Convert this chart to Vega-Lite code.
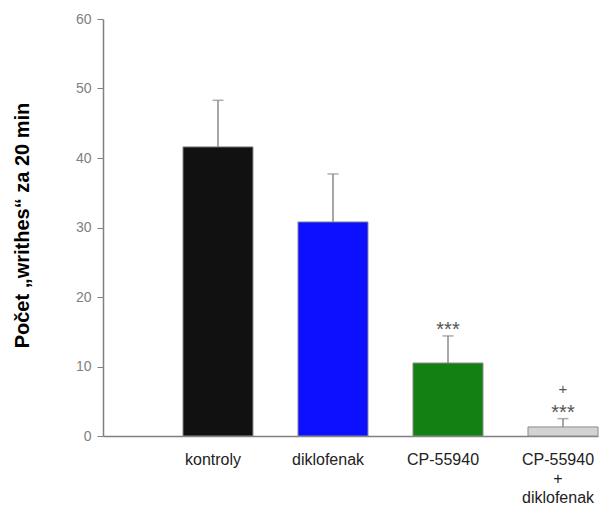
{
  "$schema": "https://vega.github.io/schema/vega-lite/v6.json",
  "autosize": {"type": "none"},
  "width": 495,
  "height": 417,
  "padding": {"left": 103, "top": 19, "right": 4, "bottom": 71},
  "background": "white",
  "config": {
    "view": {"stroke": null},
    "font": "Liberation Sans"
  },
  "data": {
    "values": [
      {"group": "kontroly", "mean": 41.6, "sem": 6.7, "stars": "", "plus": "", "color": "#111111"},
      {"group": "diklofenak", "mean": 30.8, "sem": 6.9, "stars": "", "plus": "", "color": "#0c10ff"},
      {"group": "CP-55940", "mean": 10.5, "sem": 3.9, "stars": "***", "plus": "", "color": "#138013"},
      {"group": "CP-55940 + diklofenak", "mean": 1.3, "sem": 1.2, "stars": "***", "plus": "+", "color": "#d3d3d3"}
    ]
  },
  "transform": [{"calculate": "datum.mean + datum.sem", "as": "top"}],
  "encoding": {
    "x": {
      "field": "group",
      "type": "nominal",
      "sort": null,
      "scale": {"paddingInner": 0.3913, "paddingOuter": 0.3478, "align": 1},
      "axis": {
        "title": null,
        "labelAngle": 0,
        "ticks": false,
        "domainColor": "#808080",
        "domainWidth": 1.5,
        "labelColor": "#222222",
        "labelFontSize": 16,
        "labelPadding": 15,
        "labelOffset": -5,
        "labelLineHeight": 19,
        "labelExpr": "datum.label == 'CP-55940 + diklofenak' ? ['CP-55940', '+', 'diklofenak'] : datum.label"
      }
    }
  },
  "layer": [
    {
      "mark": {"type": "bar", "stroke": "#8a8a8a", "strokeWidth": 1},
      "encoding": {
        "y": {
          "field": "mean",
          "type": "quantitative",
          "scale": {"domain": [0, 60], "nice": false},
          "axis": {
            "values": [0, 10, 20, 30, 40, 50, 60],
            "grid": false,
            "title": "Počet „writhes“ za 20 min",
            "titleFontSize": 20,
            "titleFontWeight": "bold",
            "titleColor": "#000000",
            "titleX": -81,
            "titleY": 206,
            "titleAlign": "center",
            "titleBaseline": "middle",
            "titleAngle": -90,
            "labelColor": "#7f7f7f",
            "labelFontSize": 14,
            "labelPadding": 6,
            "tickColor": "#808080",
            "tickSize": 6,
            "domainColor": "#808080",
            "domainWidth": 1.5
          }
        },
        "color": {"field": "color", "type": "nominal", "scale": null}
      }
    },
    {
      "mark": {"type": "rule", "color": "#8a8a8a", "strokeWidth": 1.5},
      "encoding": {
        "y": {"field": "mean", "type": "quantitative"},
        "y2": {"field": "top"}
      }
    },
    {
      "mark": {"type": "tick", "color": "#8a8a8a", "size": 11, "thickness": 1.5, "orient": "horizontal"},
      "encoding": {
        "y": {"field": "top", "type": "quantitative"}
      }
    },
    {
      "mark": {"type": "text", "baseline": "alphabetic", "dy": 0, "fontSize": 20, "color": "#555555"},
      "encoding": {
        "y": {"field": "top", "type": "quantitative"},
        "text": {"field": "stars"}
      }
    },
    {
      "mark": {"type": "text", "baseline": "alphabetic", "dy": -25, "fontSize": 15, "color": "#555555"},
      "encoding": {
        "y": {"field": "top", "type": "quantitative"},
        "text": {"field": "plus"}
      }
    }
  ]
}
